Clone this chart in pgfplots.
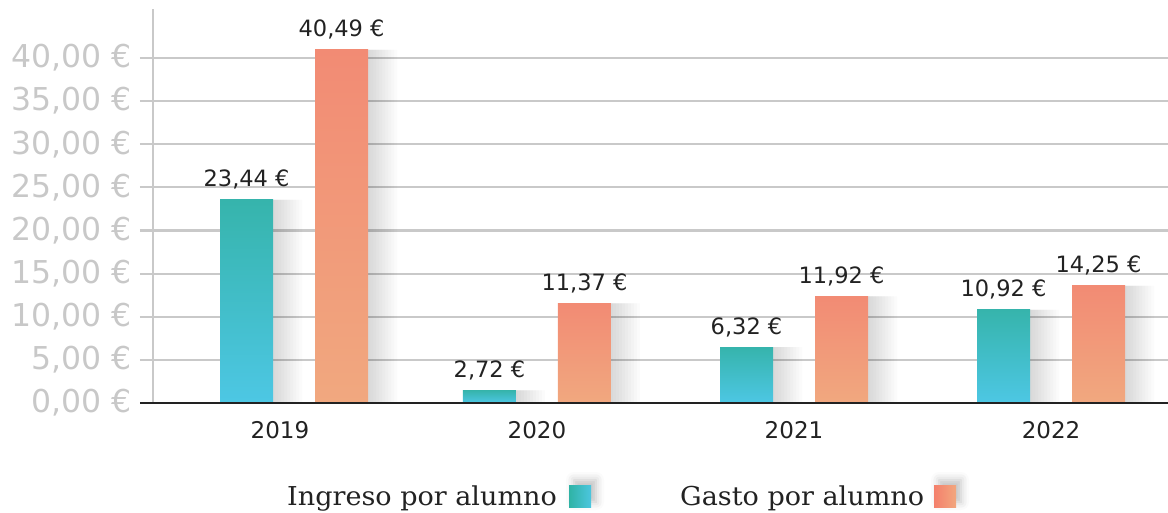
\documentclass[border=0pt]{standalone}
\usepackage{fontspec}
\setmainfont{DejaVu Sans}
\newfontfamily\legfont[FakeStretch=1.04]{DejaVu Serif}
\usepackage{pgfplots}
\pgfplotsset{compat=1.18}
\usetikzlibrary{shadows.blur}
\definecolor{tealtop}{HTML}{36B4AC}
\definecolor{tealbot}{HTML}{4DC7E4}
\definecolor{saltop}{HTML}{F28B74}
\definecolor{salbot}{HTML}{F1A87F}
\definecolor{legtealL}{HTML}{2FB3A5}
\definecolor{legtealR}{HTML}{4CC6DF}
\definecolor{legsalL}{HTML}{F4806C}
\definecolor{legsalR}{HTML}{F2A77E}
\definecolor{gridgray}{HTML}{C9C9C9}
\definecolor{ticktext}{HTML}{C8C8C8}
\definecolor{dark}{HTML}{222222}
\pgfplotstableread{
x ing gas
0.055 23.55 40.96
1 1.45 11.54
2 6.49 12.36
3 10.84 13.6
}\bars
\pgfplotsset{
  shad/.style={draw=none, fill=black, fill opacity=0.017, forget plot},
  lab/.style={point meta=explicit symbolic, nodes near coords,
    nodes near coords style={font=\fontsize{22.5}{22.5}\selectfont, text=dark, anchor=base, yshift=13pt}},
  ing/.style={ybar, bar shift=-47.5pt, draw=none, top color=tealtop, bottom color=tealbot, lab},
  gas/.style={ybar, bar shift=47.5pt, draw=none, top color=saltop, bottom color=salbot, lab},
}
\begin{document}
\begin{tikzpicture}
\useasboundingbox (0,0) rectangle (1168pt,512pt);
\begin{axis}[
  at={(153pt,109pt)}, anchor=south west,
  scale only axis, width=1015pt, height=394pt,
  xmin=-0.494, xmax=3.455, ymin=0, ymax=45.68,
  clip=false,
  axis line style={draw=none},
  ytick={0,5,...,40}, xtick={0,1,2,3}, xticklabels={2019,2020,2021,2022},
  ymajorgrids, major grid style={gridgray, line width=2.2pt},
  tick align=outside, major tick length=13pt,
  ytick style={gridgray, line width=2.2pt},
  xtick style={draw=none},
  /pgf/number format/assume math mode=true,
  yticklabel={\pgfmathprintnumber[fixed, fixed zerofill, precision=2, use comma]{\tick}~€},
  yticklabel style={font=\fontsize{31.5}{31.5}\selectfont, text=ticktext, xshift=-5pt},
  xticklabel style={font=\fontsize{23}{23}\selectfont, text=dark, anchor=base, yshift=-23pt},
  ybar, bar width=53pt,
]
% soft shadows (layered, widening to the right)
\addplot[ybar, shad, bar shift=-45.5pt, bar width=53pt] table[x=x, y=ing] {\bars};
\addplot[ybar, shad, bar shift=-44pt, bar width=56pt] table[x=x, y=ing] {\bars};
\addplot[ybar, shad, bar shift=-42.5pt, bar width=59pt] table[x=x, y=ing] {\bars};
\addplot[ybar, shad, bar shift=-41pt, bar width=62pt] table[x=x, y=ing] {\bars};
\addplot[ybar, shad, bar shift=-39.5pt, bar width=65pt] table[x=x, y=ing] {\bars};
\addplot[ybar, shad, bar shift=-38pt, bar width=68pt] table[x=x, y=ing] {\bars};
\addplot[ybar, shad, bar shift=-36.5pt, bar width=71pt] table[x=x, y=ing] {\bars};
\addplot[ybar, shad, bar shift=-35pt, bar width=74pt] table[x=x, y=ing] {\bars};
\addplot[ybar, shad, bar shift=-33.5pt, bar width=77pt] table[x=x, y=ing] {\bars};
\addplot[ybar, shad, bar shift=-32pt, bar width=80pt] table[x=x, y=ing] {\bars};
\addplot[ybar, shad, bar shift=49.5pt, bar width=53pt] table[x=x, y=gas] {\bars};
\addplot[ybar, shad, bar shift=51pt, bar width=56pt] table[x=x, y=gas] {\bars};
\addplot[ybar, shad, bar shift=52.5pt, bar width=59pt] table[x=x, y=gas] {\bars};
\addplot[ybar, shad, bar shift=54pt, bar width=62pt] table[x=x, y=gas] {\bars};
\addplot[ybar, shad, bar shift=55.5pt, bar width=65pt] table[x=x, y=gas] {\bars};
\addplot[ybar, shad, bar shift=57pt, bar width=68pt] table[x=x, y=gas] {\bars};
\addplot[ybar, shad, bar shift=58.5pt, bar width=71pt] table[x=x, y=gas] {\bars};
\addplot[ybar, shad, bar shift=60pt, bar width=74pt] table[x=x, y=gas] {\bars};
\addplot[ybar, shad, bar shift=61.5pt, bar width=77pt] table[x=x, y=gas] {\bars};
\addplot[ybar, shad, bar shift=63pt, bar width=80pt] table[x=x, y=gas] {\bars};
% bars, one path each so every bar gets its own gradient
\addplot[ing] coordinates {(0.055,23.55) [23,44~€]};
\addplot[ing] coordinates {(1,1.45) [2,72~€]};
\addplot[ing] coordinates {(2,6.49) [6,32~€]};
\addplot[ing] coordinates {(3,10.84) [10,92~€]};
\addplot[gas] coordinates {(0.055,40.96) [40,49~€]};
\addplot[gas] coordinates {(1,11.54) [11,37~€]};
\addplot[gas] coordinates {(2,12.36) [11,92~€]};
\addplot[gas] coordinates {(3,13.6) [14,25~€]};
\draw[gridgray, line width=2.2pt] (rel axis cs:0,0) -- (rel axis cs:0,1);
\draw[dark, line width=1.4pt] ([xshift=-13pt]rel axis cs:0,0) -- (rel axis cs:1,0);
\end{axis}
\node[anchor=base west, font=\legfont\fontsize{26}{26}\selectfont, text=dark, inner sep=0] at (287pt,7pt) {Ingreso por alumno};
\shade[left color=legtealL, right color=legtealR, blur shadow={shadow xshift=5pt, shadow yshift=5pt, shadow blur radius=8pt, shadow opacity=25}] (569pt,5pt) rectangle (591pt,27pt);
\node[anchor=base west, font=\legfont\fontsize{26}{26}\selectfont, text=dark, inner sep=0] at (680pt,7pt) {Gasto por alumno};
\shade[left color=legsalL, right color=legsalR, blur shadow={shadow xshift=5pt, shadow yshift=5pt, shadow blur radius=8pt, shadow opacity=25}] (934pt,5pt) rectangle (956pt,27pt);
\end{tikzpicture}
\end{document}
